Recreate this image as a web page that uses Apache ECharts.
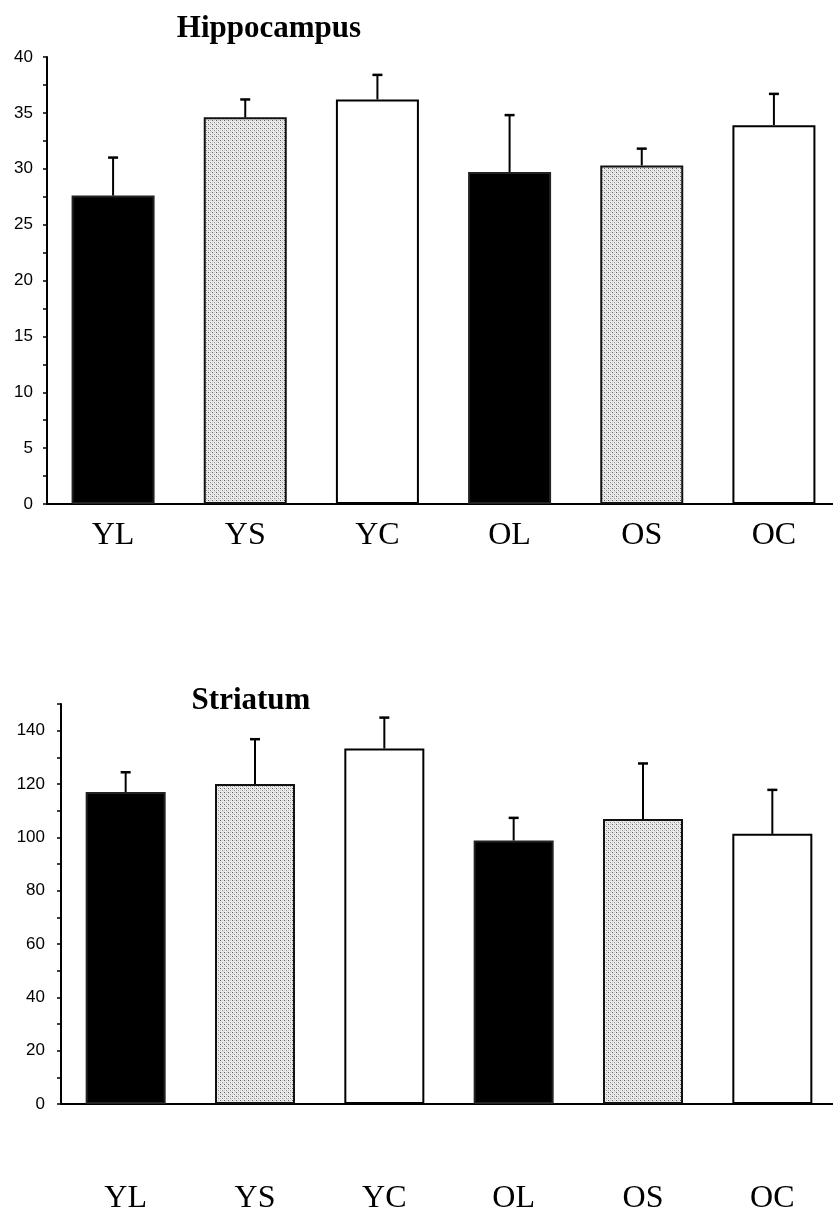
<!DOCTYPE html>
<html>
<head>
<meta charset="utf-8">
<script src="https://cdn.jsdelivr.net/npm/echarts@6/dist/echarts.min.js"></script>
<style>
html,body{margin:0;padding:0;background:#fff;}
#chart{width:833px;height:1212px;}
</style>
</head>
<body>
<div id="chart"></div>
<script>
// ---- data ----
var categories = ['YL', 'YS', 'YC', 'OL', 'OS', 'OC'];
var hippoMean = [27.6, 34.6, 36.2, 29.7, 30.3, 33.9];
var hippoSE   = [3.4, 1.6, 2.2, 5.1, 1.5, 2.8];
var striMean  = [117.0, 120.0, 133.3, 98.8, 106.9, 101.3];
var striSE    = [7.4, 16.8, 11.6, 8.5, 20.8, 16.5];
var hippoTicks = [0, 5, 10, 15, 20, 25, 30, 35, 40];
var striTicks  = [0, 20, 40, 60, 80, 100, 120, 140];

// ---- dotted pattern for the S bars ----
var tile = document.createElement('canvas');
tile.width = 4; tile.height = 4;
var g = tile.getContext('2d');
g.fillStyle = '#eeeeee'; g.fillRect(0, 0, 4, 4);
g.fillStyle = '#5e5e5e'; g.fillRect(0, 0, 1, 1);
g.fillStyle = '#8e8e8e'; g.fillRect(2, 2, 1, 1);
g.fillStyle = '#c4c4c4'; g.fillRect(2, 0, 1, 1); g.fillRect(0, 2, 1, 1);
g.fillStyle = '#d8d8d8'; g.fillRect(1, 1, 1, 1); g.fillRect(3, 3, 1, 1);
var pattern = { image: tile, repeat: 'repeat' };

var fills = ['#000', pattern, '#fff', '#000', pattern, '#fff'];
var borders = ['#222', '#111', '#000', '#222', '#111', '#000'];

function barData(vals) {
  return vals.map(function (v, i) {
    return { value: v, itemStyle: { color: fills[i], borderColor: borders[i], borderWidth: 2 } };
  });
}
function errData(mean, se) {
  return mean.map(function (m, i) { return [i, m, se[i]]; });
}
function errRender(params, api) {
  var x = api.value(0), m = api.value(1), e = api.value(2);
  var p0 = api.coord([x, m]);
  var p1 = api.coord([x, m + e]);
  return {
    type: 'group',
    children: [
      { type: 'line', shape: { x1: p0[0], y1: p0[1], x2: p1[0], y2: p1[1] }, style: { stroke: '#000', lineWidth: 2 } },
      { type: 'line', shape: { x1: p1[0] - 5, y1: p1[1], x2: p1[0] + 5, y2: p1[1] }, style: { stroke: '#000', lineWidth: 2.5 } }
    ]
  };
}
function labelFmt(ticks) {
  return function (v) { return ticks.indexOf(Math.round(v * 100) / 100) >= 0 ? String(v) : ''; };
}

var axisLineStyle = { color: '#000', width: 2 };

var option = {
  animation: false,
  backgroundColor: '#fff',
  title: [
    { text: 'Hippocampus', left: 264, top: 8, textAlign: 'center',
      textStyle: { fontFamily: 'Liberation Serif', fontWeight: 'bold', fontSize: 31, color: '#000' } },
    { text: 'Striatum', left: 246, top: 680, textAlign: 'center',
      textStyle: { fontFamily: 'Liberation Serif', fontWeight: 'bold', fontSize: 31, color: '#000' } }
  ],
  grid: [
    { left: 47, top: 57, width: 793, height: 447, outerBoundsMode: 'none', containLabel: false },
    { left: 61, top: 704, width: 776, height: 400, outerBoundsMode: 'none', containLabel: false }
  ],
  xAxis: [
    { type: 'category', gridIndex: 0, data: categories, boundaryGap: true,
      axisLine: { lineStyle: axisLineStyle },
      axisTick: { alignWithLabel: true, length: 7, lineStyle: { color: '#000', width: 2 } },
      axisLabel: { fontFamily: 'Liberation Serif', fontSize: 32, color: '#000', margin: 16 } },
    { type: 'category', gridIndex: 1, data: categories, boundaryGap: true,
      axisLine: { lineStyle: axisLineStyle },
      axisTick: { alignWithLabel: true, length: 7, lineStyle: { color: '#000', width: 2 } },
      axisLabel: { fontFamily: 'Liberation Serif', fontSize: 32, color: '#000', margin: 79 } }
  ],
  yAxis: [
    { type: 'value', gridIndex: 0, min: 0, max: 40, interval: 2.5,
      axisLine: { show: true, lineStyle: axisLineStyle },
      axisTick: { show: true, length: 4, lineStyle: { color: '#000', width: 1.5 } },
      splitLine: { show: false },
      axisLabel: { fontFamily: 'Liberation Sans', fontSize: 17, color: '#000', margin: 14, formatter: labelFmt(hippoTicks) } },
    { type: 'value', gridIndex: 1, min: 0, max: 150, interval: 10,
      axisLine: { show: true, lineStyle: axisLineStyle },
      axisTick: { show: true, length: 4, lineStyle: { color: '#000', width: 1.5 } },
      splitLine: { show: false },
      axisLabel: { fontFamily: 'Liberation Sans', fontSize: 17, color: '#000', margin: 16, formatter: labelFmt(striTicks) } }
  ],
  series: [
    { type: 'bar', xAxisIndex: 0, yAxisIndex: 0, barWidth: 83, data: barData(hippoMean), z: 3 },
    { type: 'custom', xAxisIndex: 0, yAxisIndex: 0, renderItem: errRender, data: errData(hippoMean, hippoSE),
      encode: { x: 0, y: 1 }, z: 5 },
    { type: 'bar', xAxisIndex: 1, yAxisIndex: 1, barWidth: 80, data: barData(striMean), z: 3 },
    { type: 'custom', xAxisIndex: 1, yAxisIndex: 1, renderItem: errRender, data: errData(striMean, striSE),
      encode: { x: 0, y: 1 }, z: 5 }
  ]
};

var chart = echarts.init(document.getElementById('chart'), null, { renderer: 'canvas' });
chart.setOption(option);
</script>
</body>
</html>
